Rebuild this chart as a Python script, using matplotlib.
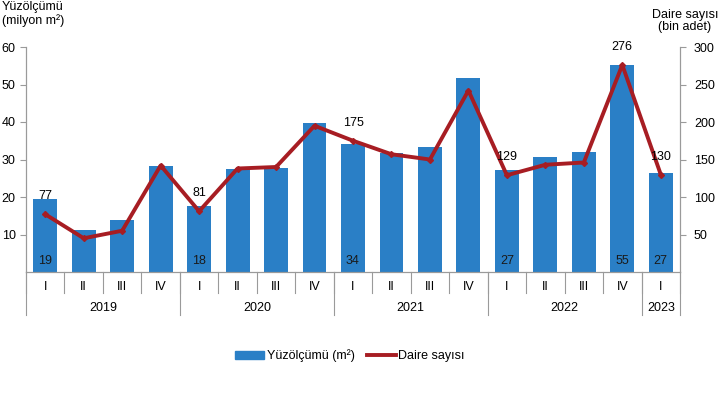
import numpy as np
import matplotlib.pyplot as plt
from matplotlib.transforms import blended_transform_factory
from matplotlib.patches import Patch
from matplotlib.lines import Line2D

plt.rcParams['font.family'] = ['Liberation Sans', 'DejaVu Sans']

# ceyreklik veriler
quarters = ["I", "II", "III", "IV"] * 4 + ["I"]
years = ["2019", "2020", "2021", "2022", "2023"]
year_sizes = [4, 4, 4, 4, 1]
yuzolcumu = [19.4, 11.2, 13.8, 28.3, 17.5, 27.4, 27.7, 39.7, 34.2,
             31.8, 33.3, 51.7, 27.1, 30.6, 32.1, 55.3, 26.5]
daire = [77, 45, 55, 142, 81, 138, 140, 195, 175,
         157, 150, 242, 129, 143, 146, 276, 130]
label_idx = [0, 4, 8, 12, 15, 16]
bar_labels = ["19", "18", "34", "27", "55", "27"]
line_labels = ["77", "81", "175", "129", "276", "130"]

bar_col = "#2a7fc6"
line_col = "#a71d23"
grey = "#9a9a9a"

fig = plt.figure(figsize=(7.2, 3.94), dpi=100)
ax = fig.add_axes([26/720, 1-272/394, (680-26)/720, (272-47)/394])
ax2 = ax.twinx()

x = np.arange(len(yuzolcumu))
ax.bar(x, yuzolcumu, width=0.62, color=bar_col, zorder=2)
ax2.plot(x, daire, color=line_col, lw=2.8, marker="D", ms=3, zorder=3)

ax.set_xlim(-0.5, len(x) - 0.5)
ax.set_ylim(0, 60)
ax2.set_ylim(0, 300)
ax.set_yticks([10, 20, 30, 40, 50, 60])
ax2.set_yticks([50, 100, 150, 200, 250, 300])
ax.set_xticks([])

for a in (ax, ax2):
    a.spines["top"].set_visible(False)
    for s in ("left", "right", "bottom"):
        a.spines[s].set_color(grey)
    a.tick_params(axis="y", colors=grey, labelcolor="black", labelsize=9, length=4, width=0.8)
ax2.tick_params(axis="y", pad=6)
ax2.set_zorder(ax.get_zorder() + 1)
ax2.patch.set_visible(False)

for i, t in zip(label_idx, bar_labels):
    ax.text(i, 1.2, t, ha="center", va="bottom", fontsize=9, color="#1a1a1a")
for i, t in zip(label_idx, line_labels):
    ax2.text(i, daire[i] + 16, t, ha="center", va="bottom", fontsize=9)

# cok seviyeli x ekseni
tr = blended_transform_factory(ax.transData, ax.transAxes)
for k in range(len(x) + 1):
    ax.plot([k - 0.5, k - 0.5], [0, -0.095], transform=tr, color=grey, lw=0.8, clip_on=False)
for i, q in enumerate(quarters):
    ax.text(i, -0.065, q, transform=tr, ha="center", va="center", fontsize=9)
start = 0
for yr, n in zip(years, year_sizes):
    ax.plot([start - 0.5, start - 0.5], [0, -0.19], transform=tr, color=grey, lw=0.8, clip_on=False)
    ax.text(start + n / 2 - 0.5, -0.16, yr, transform=tr, ha="center", va="center", fontsize=9)
    start += n
ax.plot([start - 0.5, start - 0.5], [0, -0.19], transform=tr, color=grey, lw=0.8, clip_on=False)

fig.text(0.003, 1-14/394, "Yüzölçümü\n(milyon m²)", ha="left", va="center", fontsize=9, linespacing=1.1)
fig.text(685/720, 1-21/394, "Daire sayısı\n(bin adet)", ha="center", va="center", fontsize=9, linespacing=1.1)

handles = [Patch(color=bar_col), Line2D([0], [0], color=line_col, lw=2.8)]
fig.legend(handles, ["Yüzölçümü (m²)", "Daire sayısı"], loc="center",
           bbox_to_anchor=(350/720, 1-356/394), ncol=2, frameon=False, fontsize=9,
           handlelength=2.3, handletextpad=0.2, columnspacing=1.0)

fig.savefig("out.png", dpi=100)
